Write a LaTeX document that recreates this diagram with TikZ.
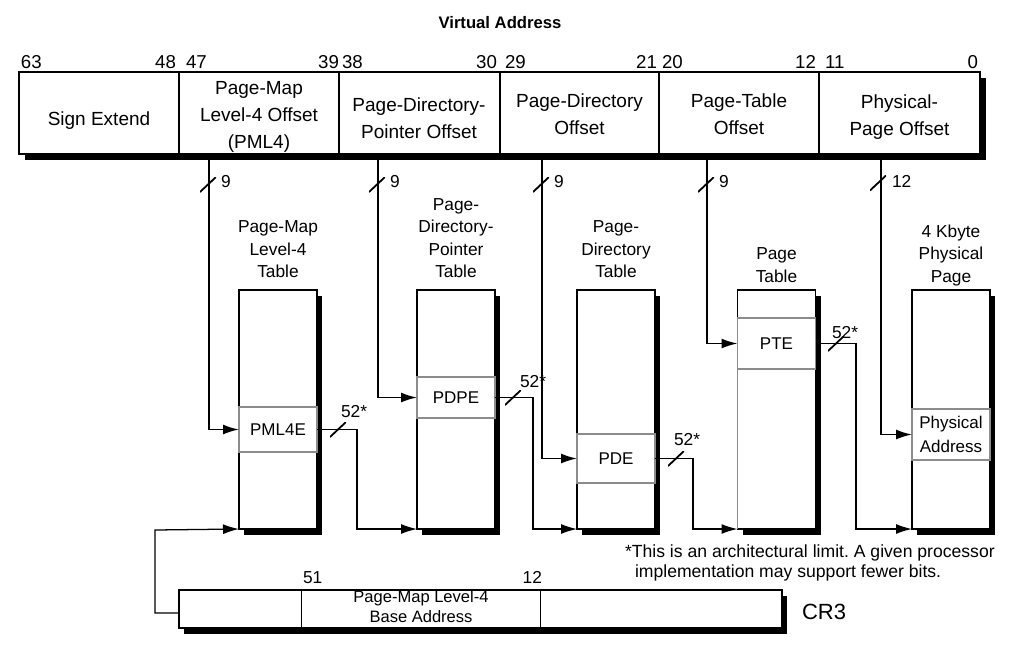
\documentclass[tikz,border=0pt]{standalone}
\usepackage{fontspec}
\setmainfont{Liberation Sans}
\usetikzlibrary{arrows.meta,shadows}
\frenchspacing

\begin{document}
\begin{tikzpicture}[x=0.75pt,y=-0.75pt,
  every node/.style={inner sep=0pt, outer sep=0pt},
  boxshadow/.style={drop shadow={shadow xshift=4pt, shadow yshift=-4.5pt, fill=black, opacity=1}},
  fieldtxt/.style={font=\fontsize{14.25pt}{20.25pt}\selectfont, align=center, anchor=south},
  bitnum/.style={font=\fontsize{14pt}{16pt}\selectfont},
  lblnum/.style={font=\fontsize{13pt}{15pt}\selectfont, anchor=base west},
  headtxt/.style={font=\fontsize{13pt}{16.9pt}\selectfont, align=center, anchor=south},
  tblbox/.style={draw, line width=1.1pt, fill=white, minimum width=58.5pt, minimum height=179.25pt, boxshadow},
  entrybox/.style={draw=black!45, line width=1.1pt, fill=white, minimum width=58.5pt,
    font=\fontsize{12.75pt}{18pt}\selectfont, align=center},
  tapline/.style={line width=1.3pt, -{Latex[length=12pt,width=7.5pt]}},
  busline/.style={line width=0.95pt, -{Latex[length=12pt,width=7.5pt]}},
  buscut/.style={minimum width=12pt, minimum height=11.25pt,
    path picture={\draw[line width=1.35pt] (path picture bounding box.south west) -- (path picture bounding box.north east);}},
  notetxt/.style={font=\fontsize{13.2pt}{15pt}\selectfont, anchor=base west}
]
\useasboundingbox (0,0) rectangle (1025,658);
\fill[white] (0,0) rectangle (1025,658);

% ---- virtual address register ----
\node[font=\fontsize{12.5pt}{15pt}\selectfont\bfseries, anchor=base] (vatitle) at (500,28) {Virtual Address};
\node[draw, line width=1pt, fill=white, minimum width=720.75pt, minimum height=61.5pt,
  drop shadow={shadow xshift=4.5pt, shadow yshift=-4.5pt, fill=black, opacity=1}] (va) at (499.5,113) {};
\foreach \x in {179,339,500,659,819} \draw[line width=1pt] (\x,72) -- (\x,154);

\node[bitnum, anchor=base west] (b63) at (21,68) {63};
\node[bitnum, anchor=base east] (b48) at (176,68) {48};
\node[bitnum, anchor=base west] (b47) at (186,68) {47};
\node[bitnum, anchor=base east] (b39) at (339,68) {39};
\node[bitnum, anchor=base west] (b38) at (342,68) {38};
\node[bitnum, anchor=base east] (b30) at (497,68) {30};
\node[bitnum, anchor=base west] (b29) at (505,68) {29};
\node[bitnum, anchor=base east] (b21) at (657,68) {21};
\node[bitnum, anchor=base west] (b20) at (662,68) {20};
\node[bitnum, anchor=base east] (b12) at (816,68) {12};
\node[bitnum, anchor=base west] (b11) at (825,68) {11};
\node[bitnum, anchor=base east] (b0) at (978,68) {0};

\node[fieldtxt] (fsign) at (99,129) {Sign Extend};
\node[fieldtxt] (fpml4) at (259,152) {Page-Map\\Level-4 Offset\\(PML4)};
\node[fieldtxt] (fpdp) at (419,139) {Page-Directory-\\Pointer Offset};
\node[fieldtxt] (fpd) at (579.5,135) {Page-Directory\\Offset};
\node[fieldtxt] (fpt) at (739,135) {Page-Table\\Offset};
\node[fieldtxt] (fphys) at (899.5,139) {Physical-\\Page Offset};

% ---- tables ----
\node[headtxt] (h1) at (278,278) {Page-Map\\Level-4\\Table};
\node[headtxt] (h2) at (456,278) {Page-\\Directory-\\Pointer\\Table};
\node[headtxt] (h3) at (616,278) {Page-\\Directory\\Table};
\node[headtxt] (h4) at (776.5,282.5) {Page\\Table};
\node[headtxt] (h5) at (951,286) {4 Kbyte\\Physical\\Page};

\node[tblbox] (t1) at (278,409.5) {};
\node[tblbox] (t2) at (456,409.5) {};
\node[tblbox] (t3) at (616,409.5) {};
\node[tblbox] (t4) at (776.5,409.5) {};
\node[tblbox] (t5) at (951,409.5) {};

\node[entrybox, minimum height=33.75pt] (e1) at (278,429.5) {PML4E};
\node[entrybox, minimum height=30.75pt] (e2) at (456,397.5) {PDPE};
\node[entrybox, minimum height=36.75pt] (e3) at (616,458.5) {PDE};
\node[entrybox, minimum height=38.25pt] (e4) at (776.5,343.5) {PTE};
\node[entrybox, minimum height=38.25pt] (e5) at (951,434.5) {Physical\\Address};
\draw[black!45, line width=1.1pt] (e4.south west) -- (t4.south west);

% ---- index fields into the tables ----
\coordinate (tap1) at (209,154);
\coordinate (tap2) at (378,154);
\coordinate (tap3) at (542,154);
\coordinate (tap4) at (707,154);
\coordinate (tap5) at (881,154);
\draw[tapline] (tap1) |- (e1.west);
\draw[tapline] (tap2) |- (e2.west);
\draw[tapline] (tap3) |- (e3.west);
\draw[tapline] (tap4) |- (e4.west);
\draw[tapline] (tap5) |- (e5.west);

\node[buscut] (s1) at (208,184.5) {};
\node[buscut] (s2) at (377,184.5) {};
\node[buscut] (s3) at (541,184.5) {};
\node[buscut] (s4) at (706,184.5) {};
\node[buscut] (s5) at (878,183) {};
\node[lblnum] (n1) at (221,187) {9};
\node[lblnum] (n2) at (390,187) {9};
\node[lblnum] (n3) at (554,187) {9};
\node[lblnum] (n4) at (719,187) {9};
\node[lblnum] (n5) at (892,187) {12};

% ---- entry pointers to the next table base ----
\coordinate (k1) at (357,529);
\coordinate (k2) at (533,529);
\coordinate (k3) at (693,529);
\coordinate (k4) at (856,529);
\draw[busline] (e1.east) -- (e1.east -| k1) -- (k1) -- (t2.south west);
\draw[busline] (e2.east) -- (e2.east -| k2) -- (k2) -- (t3.south west);
\draw[busline] (e3.east) -- (e3.east -| k3) -- (k3) -- (t4.south west);
\draw[busline] (e4.east) -- (e4.east -| k4) -- (k4) -- (t5.south west);

\node[buscut] (s6) at (338,429.5) {};
\node[buscut] (s7) at (513,397.5) {};
\node[buscut] (s8) at (676,458.5) {};
\node[buscut] (s9) at (836,343.5) {};
\node[lblnum] (m1) at (341,417) {52*};
\node[lblnum] (m2) at (520,387) {52*};
\node[lblnum] (m3) at (674,445) {52*};
\node[lblnum] (m4) at (832,338) {52*};

% ---- CR3 ----
\node[draw, line width=1pt, fill=white, minimum width=452.25pt, minimum height=28.5pt, boxshadow] (cr3) at (480.5,609) {};
\draw[line width=1pt] (301.7,590) -- (301.7,628);
\draw[line width=1pt] (540.7,590) -- (540.7,628);
\node[lblnum] (c51) at (303,583) {51};
\node[lblnum, anchor=base east] (c12) at (542,583) {12};
\node[font=\fontsize{12.4pt}{15pt}\selectfont, align=center, anchor=south] (cbase) at (421,623) {Page-Map Level-4\\Base Address};
\node[font=\fontsize{16.5pt}{18pt}\selectfont, anchor=base west] (cname) at (802,619) {CR3};

\coordinate (cr3tap) at (179,613);
\coordinate (k0) at (155,530);
\draw[busline] (cr3tap) -| (k0) -- (t1.south west);

% ---- footnote ----
\node[notetxt] (fn1) at (625,557) {*This is an architectural limit. A given processor};
\node[notetxt] (fn2) at (635,577) {implementation may support fewer bits.};
\end{tikzpicture}
\end{document}
